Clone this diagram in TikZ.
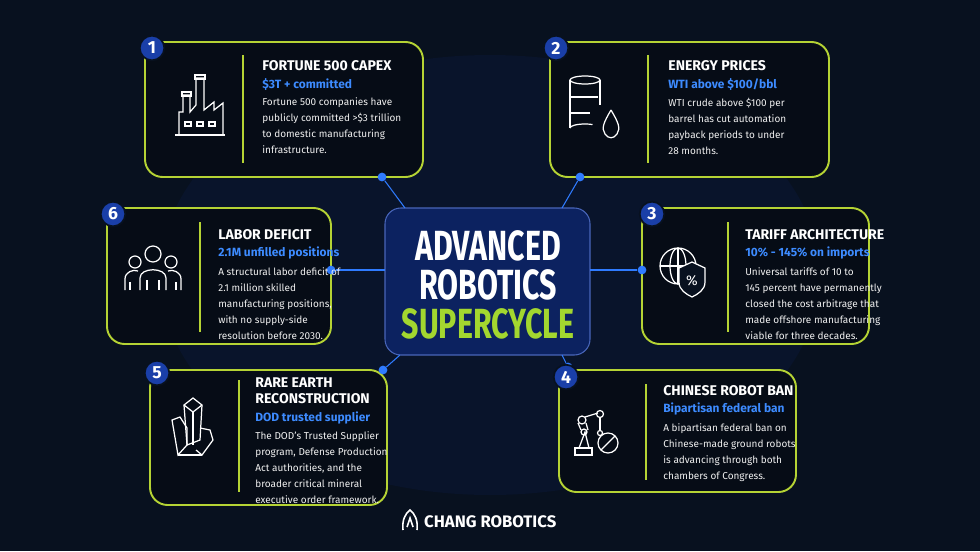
\documentclass[tikz,border=0pt]{standalone}
\usepackage{fontspec}
\setmainfont{Fira Sans}
\usetikzlibrary{positioning}
\definecolor{bgnavy}{HTML}{08111F}
\definecolor{lime}{HTML}{B5D334}
\definecolor{badge}{HTML}{1A3FA8}
\definecolor{linkblue}{HTML}{2F7BFF}
\definecolor{subblue}{HTML}{3D8BFF}
\definecolor{hubfill}{HTML}{0C2260}
\tikzset{
  card/.style={draw=lime, line width=1.1pt, rounded corners=10pt, fill=bgnavy!70!black},
  badgenode/.style={circle, fill=badge, draw=bgnavy, line width=1pt, minimum size=14pt, inner sep=0pt, text=white, font=\bfseries\fontsize{10}{10}\selectfont},
  title/.style={anchor=north west, inner sep=0pt, text=white, font=\bfseries\fontsize{8}{9.6}\selectfont, align=left},
  subtitle/.style={anchor=north west, inner sep=0pt, text=subblue, font=\bfseries\fontsize{6.8}{8}\selectfont},
  body/.style={anchor=north west, inner sep=0pt, text=white!88!gray, font=\fontsize{5.7}{9.1}\selectfont, align=left},
  hubtext/.style={inner sep=0pt, font=\bfseries\fontsize{24}{24}\selectfont},
  divider/.style={draw=lime, line width=0.8pt},
  icon/.style={draw=white, line width=0.7pt},
  link/.style={draw=linkblue, line width=0.6pt},
  dot/.style={circle, fill=linkblue, inner sep=0pt, minimum size=5pt}
}
\begin{document}
\begin{tikzpicture}[x=0.02cm, y=-0.02cm]
  \useasboundingbox (0,0) rectangle (980,551);
  \fill[bgnavy] (0,0) rectangle (980,551);
  \fill[hubfill!18!bgnavy] (490,275) ellipse (330 and 220);

  % cards
  \draw[card] (145,42) rectangle (423,177);
  \draw[card] (550,42) rectangle (829,177);
  \draw[card] (107,208) rectangle (331,344);
  \draw[card] (642,208) rectangle (869,344);
  \draw[card] (150,370) rectangle (387,505);
  \draw[card] (559,370) rectangle (796,492);

  % hub
  \draw[rounded corners=9pt, fill=hubfill, draw=badge!80!white, line width=0.6pt] (385,208) rectangle (590,355);
  \node[hubtext, text=white] (adv) at (488,246) {\scalebox{0.72}[1]{ADVANCED}};
  \node[hubtext, text=white] (rob) at (488,285) {\scalebox{0.72}[1]{ROBOTICS}};
  \node[hubtext, text=lime!90!green] (sup) at (488,324) {\scalebox{0.72}[1]{SUPERCYCLE}};

  % links
  \coordinate (h1) at (405,208); \coordinate (h2) at (562,208);
  \coordinate (h6) at (385,270); \coordinate (h3) at (590,270);
  \coordinate (h5) at (400,355); \coordinate (h4) at (562,355);
  \node[dot] (d1) at (382,177) {}; \node[dot] (d2) at (580,177) {};
  \node[dot] (d6) at (331,270) {}; \node[dot] (d3) at (642,270) {};
  \node[dot] (d5) at (383,370) {}; \node[dot] (d4) at (568,367) {};
  \draw[link] (d1) -- (h1); \draw[link] (d2) -- (h2);
  \draw[link] (d6) -- (h6); \draw[link] (d3) -- (h3);
  \draw[link] (d5) -- (h5); \draw[link] (d4) -- (h4);

  % badges
  \node[badgenode] (b1) at (152,48) {1};
  \node[badgenode] (b2) at (556,48) {2};
  \node[badgenode] (b6) at (113,214) {6};
  \node[badgenode] (b3) at (652,214) {3};
  \node[badgenode] (b5) at (157,373) {5};
  \node[badgenode] (b4) at (566,377) {4};

  % dividers
  \draw[divider] (243,55) -- (243,163);
  \draw[divider] (648,55) -- (648,163);
  \draw[divider] (200,222) -- (200,332);
  \draw[divider] (728,222) -- (728,332);
  \draw[divider] (239,380) -- (239,492);
  \draw[divider] (646,384) -- (646,480);

  % card 1
  \node[title] (t1) at (262,60) {FORTUNE 500 CAPEX};
  \node[subtitle, below=4pt of t1.south west, anchor=north west] (s1) {\$3T + committed};
  \node[body, below=4pt of s1.south west, anchor=north west] (p1) {Fortune 500 companies have\\publicly committed >\$3 trillion\\to domestic manufacturing\\infrastructure.};
  % card 2
  \node[title] (t2) at (668,60) {ENERGY PRICES};
  \node[subtitle, below=4pt of t2.south west, anchor=north west] (s2) {WTI above \$100/bbl};
  \node[body, below=4pt of s2.south west, anchor=north west] (p2) {WTI crude above \$100 per\\barrel has cut automation\\payback periods to under\\28 months.};
  % card 6
  \node[title] (t6) at (218,229) {LABOR DEFICIT};
  \node[subtitle, below=4pt of t6.south west, anchor=north west] (s6) {2.1M unfilled positions};
  \node[body, below=4pt of s6.south west, anchor=north west] (p6) {A structural labor deficit of\\2.1 million skilled\\manufacturing positions,\\with no supply-side\\resolution before 2030.};
  % card 3
  \node[title] (t3) at (745,229) {TARIFF ARCHITECTURE};
  \node[subtitle, below=4pt of t3.south west, anchor=north west] (s3) {10\% - 145\% on imports};
  \node[body, below=4pt of s3.south west, anchor=north west] (p3) {Universal tariffs of 10 to\\145 percent have permanently\\closed the cost arbitrage that\\made offshore manufacturing\\viable for three decades.};
  % card 5
  \node[title] (t5) at (255,377) {RARE EARTH\\RECONSTRUCTION};
  \node[subtitle, below=4pt of t5.south west, anchor=north west] (s5) {DOD trusted supplier};
  \node[body, below=4pt of s5.south west, anchor=north west] (p5) {The DOD's Trusted Supplier\\program, Defense Production\\Act authorities, and the\\broader critical mineral\\executive order framework.};
  % card 4
  \node[title] (t4) at (663,385) {CHINESE ROBOT BAN};
  \node[subtitle, below=4pt of t4.south west, anchor=north west] (s4) {Bipartisan federal ban};
  \node[body, below=4pt of s4.south west, anchor=north west] (p4) {A bipartisan federal ban on\\Chinese-made ground robots\\is advancing through both\\chambers of Congress.};

  % icon: factory
  \draw[icon] (175,135) -- (225,135);
  \draw[icon] (179,134) -- (179,112) -- (183,112) -- (183,95) -- (190,95) -- (190,112) -- (196,105) -- (196,78) -- (204,78) -- (204,110) -- (214,102) -- (214,110) -- (223,103) -- (223,134);
  \draw[icon] (182,92) rectangle (191,96); \draw[icon] (195,75) rectangle (205,79);
  \foreach \fx in {185,197,209} \draw[icon] (\fx,122) rectangle ++(6,4);
  % icon: barrel and drop
  \draw[icon] (585,80) ellipse (15 and 4);
  \draw[icon] (570,80) -- (570,128); \draw[icon] (600,80) -- (600,105);
  \draw[icon] (570,128) arc[start angle=180, end angle=300, x radius=15, y radius=4];
  \draw[icon] (570,97) -- (598,97); \draw[icon] (570,113) -- (590,113);
  \draw[icon] (611,110) .. controls (604,122) and (601,128) .. (605,134) .. controls (608,139) and (614,139) .. (617,134) .. controls (621,128) and (618,122) .. (611,110);
  % icon: people
  \draw[icon] (153,254) circle (8); \draw[icon] (135,262) circle (6); \draw[icon] (171,262) circle (6);
  \draw[icon] (140,290) -- (140,278) .. controls (140,267) and (166,267) .. (166,278) -- (166,290);
  \draw[icon] (147,290) -- (147,280); \draw[icon] (159,290) -- (159,280);
  \draw[icon] (125,290) -- (125,279) .. controls (125,272) and (133,269) .. (138,271);
  \draw[icon] (181,290) -- (181,279) .. controls (181,272) and (173,269) .. (168,271);
  \draw[icon] (130,290) -- (130,282); \draw[icon] (176,290) -- (176,282);
  % icon: globe with percent
  \draw[icon] (678,266) circle (18);
  \draw[icon] (678,248) -- (678,284); \draw[icon] (660,266) -- (696,266);
  \draw[icon] (678,266) ellipse (8 and 18);
  \draw[icon, fill=bgnavy] (692,262) -- (705,268) -- (705,282) .. controls (705,290) and (698,294) .. (692,297) .. controls (686,294) and (679,290) .. (679,282) -- (679,268) -- cycle;
  \node[text=white, font=\fontsize{8}{8}\selectfont] (pct) at (692,281) {\%};
  % icon: crystals
  \draw[icon] (184,405) -- (193,398) -- (202,405) -- (200,440) -- (187,445) -- cycle;
  \draw[icon] (184,405) -- (193,412) -- (202,405); \draw[icon] (193,412) -- (193,445);
  \draw[icon] (172,420) -- (180,417) -- (187,428) -- (187,445) -- (178,455) -- cycle;
  \draw[icon] (200,428) -- (210,430) -- (213,440) -- (202,455) -- (196,450);
  \draw[icon] (178,455) -- (202,455);
  % icon: robot arm and ban sign
  \draw[icon] (575,448) rectangle (592,455);
  \draw[icon] (579,448) -- (585,432) -- (589,448);
  \draw[icon] (582,420) circle (4) (584,432) circle (3);
  \draw[icon] (578,423) -- (581,430) (586,423) -- (588,430);
  \draw[icon] (585,417) -- (598,413); \draw[icon] (600,414) circle (3.5);
  \draw[icon] (600,418) -- (600,431); \draw[icon] (600,433) circle (2.5);
  \draw[icon] (608,443) circle (10); \draw[icon] (601,450) -- (615,436);

  % footer
  \draw[icon, line width=0.9pt] (403,530) .. controls (402,520) and (405,514) .. (410,510) .. controls (415,514) and (418,520) .. (417,530);
  \draw[icon, line width=0.9pt] (407,527) -- (410,518) -- (413,527);
  \node[text=white, font=\bfseries\fontsize{9.5}{10}\selectfont, anchor=west] (logo) at (418,522) {CHANG ROBOTICS};
\end{tikzpicture}
\end{document}
